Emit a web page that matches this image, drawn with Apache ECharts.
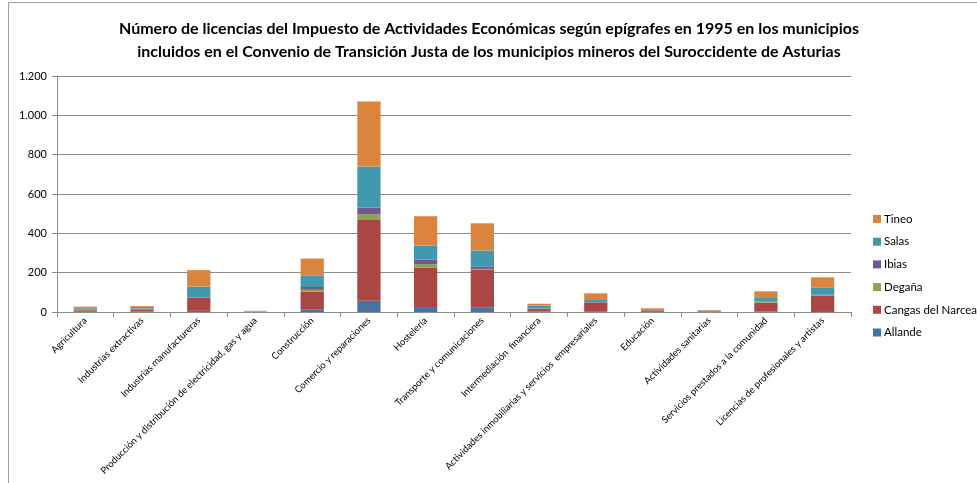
<!DOCTYPE html>
<html>
<head>
<meta charset="utf-8">
<script src="https://cdn.jsdelivr.net/npm/echarts@6/dist/echarts.min.js"></script>
<style>
html,body{margin:0;padding:0;background:#fff;}
#chart{width:977px;height:483px;}
</style>
</head>
<body>
<div id="chart"></div>
<script>
var categories = [
  "Agricultura",
  "Industrias extractivas",
  "Industrias manufactureras",
  "Producción y distribución de electricidad, gas y agua",
  "Construcción",
  "Comercio y reparaciones",
  "Hostelería",
  "Transporte y comunicaciones",
  "Intermediación  financiera",
  "Actividades inmobiliarias y servicios  empresariales",
  "Educación",
  "Actividades sanitarias",
  "Servicios prestados a la comunidad",
  "Licencias de profesionales y artistas"
];
var seriesNames = ["Allande", "Cangas del Narcea", "Degaña", "Ibias", "Salas", "Tineo"];
var allande = [4, 2, 6, 0, 12, 57, 25, 24, 3, 4, 1, 0, 2, 5];
var cangas  = [5, 8, 66, 1, 91, 411, 200, 191, 12, 43, 7, 3, 45, 78];
var degana  = [2, 7, 1, 1, 10, 29, 18, 4, 1, 1, 1, 0, 7, 2];
var ibias   = [1, 2, 2, 0, 14, 34, 24, 11, 2, 3, 1, 1, 2, 3];
var salas   = [7, 6, 54, 1, 59, 209, 71, 83, 15, 10, 4, 3, 15, 35];
var tineo   = [8, 5, 84, 3, 86, 330, 149, 138, 9, 34, 5, 3, 34, 53];
var colors  = ["#4572A7", "#AA4643", "#89A54E", "#71588F", "#4198AF", "#DB843D"];
var yTicks = {min: 0, max: 1200, interval: 200};

var dataSets = [allande, cangas, degana, ibias, salas, tineo];
var series = seriesNames.map(function (name, i) {
  return {
    name: name,
    type: 'bar',
    stack: 'total',
    barWidth: '41%',
    data: dataSets[i],
    itemStyle: {color: colors[i]},
    emphasis: {disabled: true}
  };
});

var chart = echarts.init(document.getElementById('chart'), null, {renderer: 'canvas'});
chart.setOption({
  animation: false,
  backgroundColor: '#ffffff',
  color: colors,
  graphic: [{
    type: 'rect',
    shape: {x: 8.5, y: 2.5, width: 1000, height: 1000},
    style: {fill: 'none', stroke: '#a0a0a0', lineWidth: 1},
    silent: true
  }],
  title: {
    text: 'Número de licencias del Impuesto de Actividades Económicas según epígrafes en 1995 en los municipios\nincluidos en el Convenio de Transición Justa de los municipios mineros del Suroccidente de Asturias',
    left: 484,
    textAlign: 'center',
    top: 12,
    textStyle: {fontFamily: 'Lato', fontWeight: 'bold', fontSize: 16, color: '#000', lineHeight: 23}
  },
  legend: {
    orient: 'vertical',
    left: 868,
    top: 208,
    itemWidth: 8,
    itemHeight: 8,
    itemGap: 10.7,
    icon: 'rect',
    data: seriesNames.slice().reverse(),
    textStyle: {fontFamily: 'Lato', fontSize: 11.5, color: '#000', padding: [0, 0, 0, -2]}
  },
  grid: {left: 57, right: 126, top: 76, bottom: 171, containLabel: false},
  xAxis: {
    type: 'category',
    data: categories,
    axisLine: {lineStyle: {color: '#8c8c8c'}},
    axisTick: {show: true, alignWithLabel: false, length: 5, lineStyle: {color: '#8c8c8c'}},
    axisLabel: {rotate: 45, interval: 0, fontFamily: 'Lato', fontSize: 9.5, color: '#000', margin: 7}
  },
  yAxis: {
    type: 'value',
    min: yTicks.min,
    max: yTicks.max,
    interval: yTicks.interval,
    axisLine: {show: true, lineStyle: {color: '#8c8c8c'}},
    axisTick: {show: true, length: 5, lineStyle: {color: '#8c8c8c'}},
    splitLine: {lineStyle: {color: '#8c8c8c'}},
    axisLabel: {
      fontFamily: 'Lato', fontSize: 11, color: '#000', margin: 10,
      formatter: function (v) { return String(v).replace(/\B(?=(\d{3})+(?!\d))/g, '.'); }
    }
  },
  series: series
});
</script>
</body>
</html>
